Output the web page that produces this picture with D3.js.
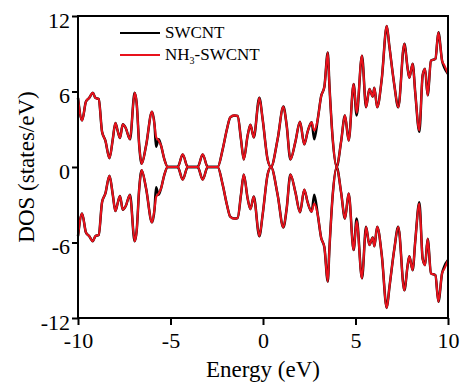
<!DOCTYPE html>
<html>
<head>
<meta charset="utf-8">
<script src="https://cdn.jsdelivr.net/npm/d3@7"></script>
<style>
  body { margin: 0; background: #fff; }
  svg { display: block; font-family: "Liberation Serif", "Times New Roman", serif; }
</style>
</head>
<body>
<svg id="chart" width="460" height="386"></svg>
<script>
// energy grid (eV) and spin-up DOS; spin-down is the mirror
const energy = [-10.0, -9.78, -9.57, -9.39, -9.2, -9.06, -8.88, -8.7, -8.52, -8.3, -8.12, -7.98, -7.86, -7.73,
  -7.58, -7.42, -7.19, -6.94, -6.83, -6.69, -6.56, -6.32, -6.0, -5.86, -5.78, -5.64, -5.51, -5.33, -5.15,
  -4.61, -4.34, -4.07, -3.53, -3.26, -2.99, -2.45, -2.18, -1.95, -1.77, -1.55, -1.37, -1.19, -1.04, -0.83,
  -0.68, -0.5, -0.2, -0.02, 0.25, 0.43, 0.79, 1.1, 1.28, 1.48, 1.75, 2.0, 2.23, 2.41, 2.63, 2.77, 2.96,
  3.14, 3.32, 3.5, 3.59, 3.77, 3.98, 4.22, 4.43, 4.63, 4.9, 5.06, 5.35, 5.57, 5.75, 5.93, 6.02, 6.17, 6.42,
  6.69, 6.83, 7.1, 7.31, 7.64, 7.82, 7.91, 8.09, 8.23, 8.45, 8.63, 8.76, 8.9, 9.08, 9.32, 9.48, 9.68, 9.8, 10.0];

const dosNH3 = [5.5, 3.7, 5.2, 5.5, 5.9, 5.5, 5.4, 2.8, 2.1, 0.7, 2.2, 3.5, 2.9, 2.3,
  3.4, 3.1, 2.2, 5.9, 5.1, 1.7, 0.25, 1.7, 4.4, 3.3, 2.4, 2.1, 1.7, 0.6, 0,
  0, 1.0, 0, 0, 1.0, 0, 0, 1.4, 3.0, 3.95, 4.1, 4.05, 2.2, 0.6, 2.5,
  3.35, 2.35, 5.5, 3.8, 0.6, 0, 2.2, 4.8, 3.3, 0.6, 2.0, 3.6, 1.8, 2.8, 3.55, 2.9, 3.8,
  5.6, 6.4, 9.1, 6.5, 2.2, 0, 2.0, 4.1, 2.1, 6.6, 4.3, 8.85, 4.75, 6.2, 5.6, 6.3, 4.75, 7.0,
  11.2, 9.6, 6.5, 4.75, 9.8, 7.8, 7.1, 8.2, 5.9, 2.9, 7.3, 7.8, 5.7, 8.45, 8.6, 10.7, 8.45, 8.1, 7.4];

const dosSWCNT = [5.5, 3.7, 5.2, 5.5, 5.9, 5.5, 5.4, 2.8, 2.1, 0.7, 2.2, 3.5, 2.9, 2.3,
  3.4, 3.1, 2.2, 5.9, 5.1, 1.7, 0.25, 1.7, 4.4, 3.3, 1.6, 2.2, 1.7, 0.6, 0,
  0, 1.0, 0, 0, 1.0, 0, 0, 1.4, 3.0, 3.95, 4.1, 4.05, 2.2, 0.6, 2.5,
  3.35, 2.35, 5.5, 3.8, 0.6, 0, 2.2, 4.8, 3.3, 0.6, 2.0, 3.6, 1.8, 2.8, 3.55, 2.2, 3.8,
  5.6, 6.4, 9.1, 6.5, 2.2, 0, 2.0, 4.1, 2.1, 6.6, 4.1, 8.85, 4.75, 6.2, 5.6, 6.3, 4.75, 7.0,
  11.2, 9.6, 6.5, 4.75, 9.8, 7.8, 7.1, 8.2, 5.9, 2.8, 7.3, 7.8, 5.7, 8.45, 8.6, 10.7, 8.45, 7.9, 7.4];

const xTicks = [-10, -5, 0, 5, 10];
const yTicks = [-12, -6, 0, 6, 12];
const seriesNames = ['SWCNT', 'NH3-SWCNT'];
const seriesColors = ['#000000', '#e8121c'];

const width = 460, height = 386;
const margin = {top: 16, right: 12, bottom: 68, left: 78};
const innerW = width - margin.left - margin.right;
const innerH = height - margin.top - margin.bottom;

const svg = d3.select('#chart');
const g = svg.append('g').attr('transform', `translate(${margin.left},${margin.top})`);

const x = d3.scaleLinear().domain([-10, 10]).range([0, innerW]);
const y = d3.scaleLinear().domain([-12, 12]).range([innerH, 0]);

const fmt = d => String(d);

// axes
const xAxis = g.append('g')
    .attr('transform', `translate(0,${innerH})`)
    .call(d3.axisBottom(x).tickValues(xTicks).tickSize(7).tickPadding(7).tickFormat(fmt));
const yAxis = g.append('g')
    .call(d3.axisLeft(y).tickValues(yTicks).tickSize(6).tickPadding(2).tickFormat(fmt));

[xAxis, yAxis].forEach(a => {
    a.select('.domain').remove();
    a.selectAll('line').attr('stroke', '#000').attr('stroke-width', 2);
    a.selectAll('text').attr('fill', '#000').style('font-size', '22px')
        .style('font-family', '"Liberation Serif", "Times New Roman", serif');
});
yAxis.selectAll('text').attr('dy', '0.5em');

// curves
const line = d3.line()
    .x(d => x(d[0]))
    .y(d => y(d[1]))
    .curve(d3.curveMonotoneX);

const series = [dosSWCNT, dosNH3];
series.forEach((vals, i) => {
    const up = energy.map((e, k) => [e, vals[k]]);
    const down = energy.map((e, k) => [e, -vals[k]]);
    [up, down].forEach(pts => {
        g.append('path')
            .datum(pts)
            .attr('d', line)
            .attr('fill', 'none')
            .attr('stroke', seriesColors[i])
            .attr('stroke-width', i === 0 ? 2.5 : 2.1)
            .attr('stroke-linejoin', 'round');
    });
});

// frame
g.append('rect')
    .attr('width', innerW)
    .attr('height', innerH)
    .attr('fill', 'none')
    .attr('stroke', '#000')
    .attr('stroke-width', 2);

// legend
const legend = g.append('g').attr('transform', 'translate(42,17)');
seriesNames.forEach((name, i) => {
    const row = legend.append('g').attr('transform', `translate(0,${i * 22})`);
    row.append('line')
        .attr('x1', 0).attr('x2', 40)
        .attr('stroke', seriesColors[i]).attr('stroke-width', 2);
    const t = row.append('text')
        .attr('x', 45).attr('y', 5)
        .style('font-size', '17px')
        .attr('fill', '#000');
    if (name === 'NH3-SWCNT') {
        t.append('tspan').text('NH');
        t.append('tspan').text('3').attr('dy', 4).style('font-size', '10px');
        t.append('tspan').text('-SWCNT').attr('dy', -4);
    } else {
        t.text(name);
    }
});

// axis titles
svg.append('text')
    .attr('x', margin.left + x(0))
    .attr('y', 377)
    .attr('text-anchor', 'middle')
    .style('font-size', '23px')
    .text('Energy (eV)');

svg.append('text')
    .attr('transform', `translate(34,${margin.top + y(0)}) rotate(-90)`)
    .attr('text-anchor', 'middle')
    .style('font-size', '23px')
    .text('DOS (states/eV)');
</script>
</body>
</html>
